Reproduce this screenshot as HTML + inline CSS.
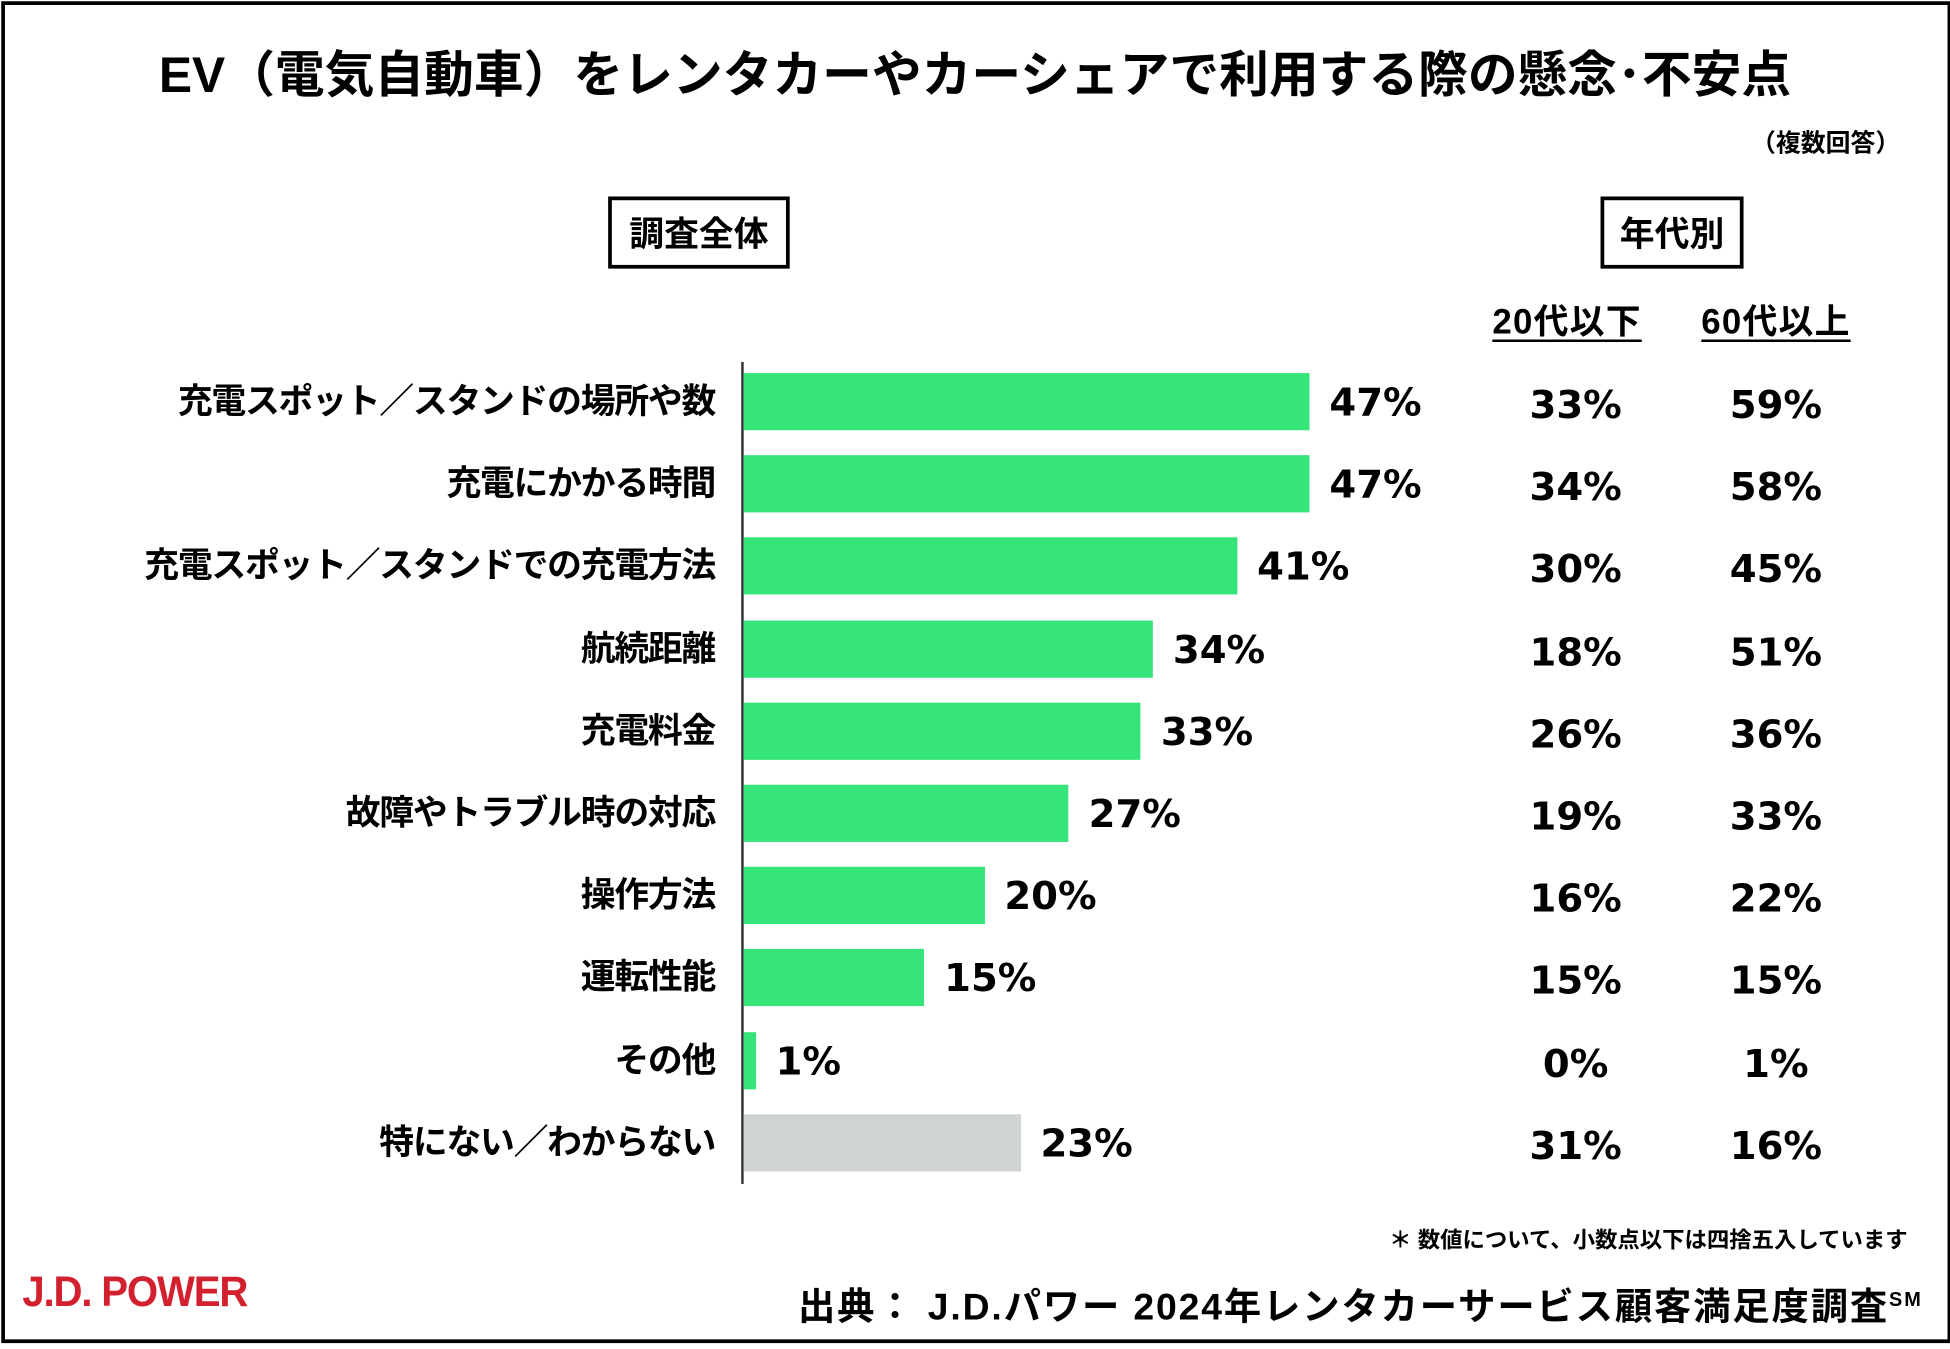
<!DOCTYPE html>
<html><head><meta charset="utf-8">
<style>
html,body{margin:0;padding:0;background:#fff;}
body{width:1950px;height:1349px;overflow:hidden;position:relative;}
#stage{position:absolute;left:0;top:0;width:1568px;height:1085px;transform:scale(1.24362);transform-origin:0 0;font-family:"Liberation Sans","Noto Sans CJK JP",sans-serif;color:#000;}
.frame{position:absolute;left:1px;top:1px;width:1562px;height:1073px;border:3px solid #000;}
.t{position:absolute;white-space:nowrap;font-weight:bold;}
.num{font-family:"DejaVu Sans","Liberation Sans",sans-serif;font-weight:bold;font-size:31px;position:absolute;white-space:nowrap;line-height:1;}
.box{position:absolute;border:3px solid #000;box-sizing:border-box;display:flex;align-items:center;justify-content:center;font-weight:bold;font-size:28px;}
</style></head><body>
<div id="stage">
<div class="frame"></div>
<div class="t" style="left:0;width:1568px;text-align:center;top:36px;font-size:40px;line-height:50px;">EV（電気自動車）をレンタカーやカーシェアで利用する際の懸念･不安点</div>
<div class="t" style="right:40px;top:99px;font-size:20px;">（複数回答）</div>
<div class="box" style="left:489px;top:158px;width:146px;height:58px;">調査全体</div>
<div class="box" style="left:1287px;top:158px;width:115px;height:58px;">年代別</div>
<div class="t" style="left:1200px;top:237px;font-size:28px;letter-spacing:1px;text-decoration:underline;text-underline-offset:5px;">20代以下</div>
<div class="t" style="left:1368px;top:237px;font-size:28px;letter-spacing:1px;text-decoration:underline;text-underline-offset:5px;">60代以上</div>
<div id="axis" style="position:absolute;left:596px;top:291px;width:2px;height:661px;background:#333;"></div>
<div id="rows"></div>
<div class="t" style="right:34px;top:983px;font-size:18px;">＊ 数値について、小数点以下は四捨五入しています</div>
<div class="t" style="left:18px;top:1020px;font-size:34px;color:#d3202f;letter-spacing:-1px;transform:scaleX(0.95);transform-origin:0 0;">J.D. POWER</div>
<div class="t" style="right:22px;top:1026px;font-size:30px;letter-spacing:1.5px;">出典： J.D.パワー 2024年レンタカーサービス顧客満足度調査<sup style="font-size:16px;">SM</sup></div>
</div>
<script>
const categories=["充電スポット／スタンドの場所や数","充電にかかる時間","充電スポット／スタンドでの充電方法","航続距離","充電料金","故障やトラブル時の対応","操作方法","運転性能","その他","特にない／わからない"];
const overall=[47,47,41,34,33,27,20,15,1,23];
const age20=[33,34,30,18,26,19,16,15,0,31];
const age60=[59,58,45,51,36,33,22,15,1,16];
const rowsEl=document.getElementById('rows');
const x0=598, pxPer=9.68, rowTop=300, pitch=66.2, barH=46;
function xScale(v){return v*pxPer;}
function yRow(i){return rowTop+i*pitch;}
categories.forEach((c,i)=>{
  const y=yRow(i), cy=y+barH/2;
  const lab=document.createElement('div');
  
  
  lab.className='t';
  lab.style.cssText=`right:${1568-575}px;top:${cy-19}px;font-size:28px;line-height:38px;letter-spacing:-1px;`;
  lab.textContent=c;rowsEl.appendChild(lab);
  const bar=document.createElement('div');
  
  
  bar.style.cssText=`position:absolute;left:${x0}px;top:${y}px;width:${Math.max(xScale(overall[i]),4)}px;height:${barH}px;background:${i===categories.length-1?'#d0d3d4':'#35e57a'};`;
  rowsEl.appendChild(bar);
  const v=document.createElement('div');
  
  
  v.className='num';
  v.style.left=(x0+Math.max(xScale(overall[i]),4)+16)+'px';
  v.style.top=(cy-14)+'px';
  v.textContent=overall[i]+'%';rowsEl.appendChild(v);
  const a=document.createElement('div');
  
  
  a.className='num';
  a.style.cssText=`left:1167px;width:200px;text-align:center;top:${cy-12}px;`;
  a.textContent=age20[i]+'%';rowsEl.appendChild(a);
  const b=document.createElement('div');
  
  
  b.className='num';
  b.style.cssText=`left:1328px;width:200px;text-align:center;top:${cy-12}px;`;
  b.textContent=age60[i]+'%';rowsEl.appendChild(b);
});
</script>
</body></html>
